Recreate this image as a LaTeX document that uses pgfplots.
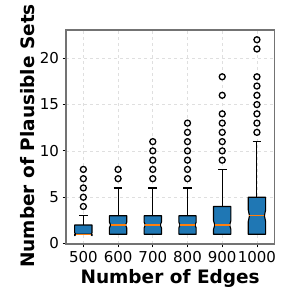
\documentclass[border=0pt]{standalone}
\usepackage{pgfplots}
\pgfplotsset{compat=1.18}
\usepackage{fontspec}
\setmainfont{DejaVu Sans}
\definecolor{boxblue}{HTML}{1F77B4}
\definecolor{medorange}{HTML}{FF7F0E}
\definecolor{framegray}{RGB}{115,115,115}
\begin{document}
\begin{tikzpicture}[x=1pt,y=1pt]
\path[use as bounding box] (0,0) rectangle (299,299);
\begin{axis}[
  at={(66pt,55pt)}, anchor=south west,
  scale only axis, width=208.3pt, height=214pt,
  xmin=0.5, xmax=6.5, ymin=-0.05, ymax=23.05,
  xtick={1,2,3,4,5,6},
  xticklabels={500,600,700,800,900,1000},
  ytick={0,5,10,15,20},
  /pgf/number format/assume math mode=true,
  tick label style={font=\fontsize{15}{16}\selectfont},
  tick align=outside, major tick length=3.5pt,
  xtick pos=bottom, ytick pos=left,
  major tick style={black, line width=0.8pt},
  axis line style={framegray, line width=1.5pt},
  grid=major,
  major grid style={dashed, gray!25, line width=0.6pt},
  xlabel={\textbf{Number of Edges}},
  ylabel={\textbf{Number of Plausible Sets}},
  label style={font=\fontsize{18.5}{20}\selectfont},
  xlabel style={at={(axis description cs:0.5,-0.185)}, anchor=base},
  ylabel style={at={(axis description cs:-0.149,0.505)}, anchor=base, rotate=0},
  clip=false,
]
% whiskers and caps
\addplot[black, line width=1.1pt] coordinates {(1,2) (1,3)};
\addplot[black, line width=1.1pt] coordinates {(0.875,3) (1.125,3)};
\addplot[black, line width=1.1pt] coordinates {(2,3) (2,6)};
\addplot[black, line width=1.1pt] coordinates {(1.875,6) (2.125,6)};
\addplot[black, line width=1.1pt] coordinates {(3,3) (3,6)};
\addplot[black, line width=1.1pt] coordinates {(2.875,6) (3.125,6)};
\addplot[black, line width=1.1pt] coordinates {(4,3) (4,6)};
\addplot[black, line width=1.1pt] coordinates {(3.875,6) (4.125,6)};
\addplot[black, line width=1.1pt] coordinates {(5,4) (5,8)};
\addplot[black, line width=1.1pt] coordinates {(4.875,8) (5.125,8)};
\addplot[black, line width=1.1pt] coordinates {(6,5) (6,11)};
\addplot[black, line width=1.1pt] coordinates {(5.875,11) (6.125,11)};
% notched boxes
\addplot[fill=boxblue, draw=black, line width=1.1pt, line join=round] coordinates {(0.75,1) (1.25,1) (1.25,0.843) (1.215,1) (1.25,1.157) (1.25,2) (0.75,2) (0.75,1.157) (0.785,1) (0.75,0.843)} -- cycle;
\addplot[fill=boxblue, draw=black, line width=1.1pt, line join=round] coordinates {(1.75,1) (2.25,1) (2.25,1.686) (2.215,2) (2.25,2.314) (2.25,3) (1.75,3) (1.75,2.314) (1.785,2) (1.75,1.686)} -- cycle;
\addplot[fill=boxblue, draw=black, line width=1.1pt, line join=round] coordinates {(2.75,1) (3.25,1) (3.25,1.686) (3.215,2) (3.25,2.314) (3.25,3) (2.75,3) (2.75,2.314) (2.785,2) (2.75,1.686)} -- cycle;
\addplot[fill=boxblue, draw=black, line width=1.1pt, line join=round] coordinates {(3.75,1) (4.25,1) (4.25,1.686) (4.215,2) (4.25,2.314) (4.25,3) (3.75,3) (3.75,2.314) (3.785,2) (3.75,1.686)} -- cycle;
\addplot[fill=boxblue, draw=black, line width=1.1pt, line join=round] coordinates {(4.75,1) (5.25,1) (5.25,1.529) (5.215,2) (5.25,2.471) (5.25,4) (4.75,4) (4.75,2.471) (4.785,2) (4.75,1.529)} -- cycle;
\addplot[fill=boxblue, draw=black, line width=1.1pt, line join=round] coordinates {(5.75,1) (6.25,1) (6.25,2.372) (6.215,3) (6.25,3.628) (6.25,5) (5.75,5) (5.75,3.628) (5.785,3) (5.75,2.372)} -- cycle;
% medians
\addplot[medorange, line width=1.4pt] coordinates {(0.785,1) (1.215,1)};
\addplot[medorange, line width=1.4pt] coordinates {(1.785,2) (2.215,2)};
\addplot[medorange, line width=1.4pt] coordinates {(2.785,2) (3.215,2)};
\addplot[medorange, line width=1.4pt] coordinates {(3.785,2) (4.215,2)};
\addplot[medorange, line width=1.4pt] coordinates {(4.785,2) (5.215,2)};
\addplot[medorange, line width=1.4pt] coordinates {(5.785,3) (6.215,3)};
% outliers
\addplot[only marks, mark=o, mark size=3pt, black, mark options={line width=1.3pt}] coordinates {
 (1,4) (1,5) (1,6) (1,7) (1,8)
 (2,7) (2,8)
 (3,7) (3,8) (3,9) (3,10) (3,11)
 (4,7) (4,8) (4,9) (4,10) (4,11) (4,12) (4,13)
 (5,9) (5,10) (5,11) (5,12) (5,13) (5,14) (5,16) (5,18)
 (6,12) (6,13) (6,14) (6,15) (6,16) (6,17) (6,18) (6,21) (6,22)
};
\end{axis}
\end{tikzpicture}
\end{document}
